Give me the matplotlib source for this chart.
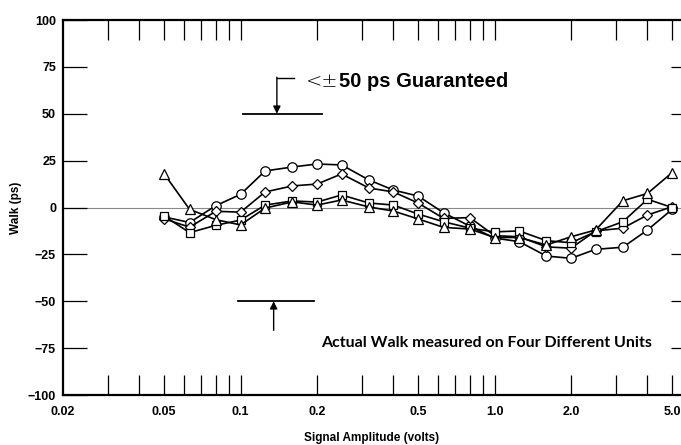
import matplotlib
matplotlib.use("Agg")
import matplotlib.pyplot as plt
from matplotlib.ticker import FixedLocator, FixedFormatter, NullLocator

# ---------------- data ----------------
amplitude = [0.05, 0.063, 0.08, 0.1, 0.125, 0.16, 0.2, 0.25, 0.32, 0.4, 0.5,
             0.63, 0.8, 1.0, 1.25, 1.6, 2.0, 2.5, 3.2, 4.0, 5.0]

walk_circle = [-5, -8, 1, 7, 19.5, 21.6, 23.2, 22.7, 14.7, 9.3, 6.1,
               -2.8, -10, -16.3, -18.2, -25.9, -27.1, -22.3, -21.2, -12, -1]
walk_diamond = [-6, -10.5, -2, -2.5, 8.3, 11.5, 12.5, 17.9, 10.4, 8.3, 2.4,
                -5.8, -5.4, -15, -15.6, -21, -21.7, -12.5, -11, -4, 0.4]
walk_square = [-4.5, -13.4, -9.5, -6.7, 1.3, 3.5, 2.9, 6.7, 2.4, 1.3, -3.5,
               -7.6, -11, -13, -12.5, -17.7, -18.8, -12.9, -7.6, 4.4, 0]
walk_triangle = [18, -1, -6.5, -9.3, -0.3, 3, 1.3, 4, 0.3, -1.9, -6.1,
                 -10.6, -11.5, -16, -16, -20, -15.6, -12, 3.6, 7.5, 18.6]

x_tick_positions = [0.03, 0.04, 0.05, 0.06, 0.07, 0.08, 0.09,
                    0.1, 0.2, 0.3, 0.4, 0.5, 0.6, 0.7, 0.8, 0.9,
                    1.0, 2.0, 3.0, 4.0, 5.0]
x_label_values = [0.02, 0.05, 0.1, 0.2, 0.5, 1.0, 2.0, 5.0]
x_label_texts = ["0.02", "0.05", "0.1", "0.2", "0.5", "1.0", "2.0", "5.0"]
y_tick_values = [100, 75, 50, 25, 0, -25, -50, -75, -100]
y_tick_texts = ["100", "75", "50", "25", "0", "\u221225", "\u221250", "\u221275", "\u2212100"]
y_right_ticks = [75, 50, 25, -25, -50, -75]

# ---------------- figure ----------------
plt.rcParams['font.family'] = ['Liberation Sans', 'DejaVu Sans']
fig = plt.figure(figsize=(6.81, 4.45), dpi=100)
ax = fig.add_axes([63 / 681, 50 / 445, 618 / 681, 375 / 445])
ax.set_xscale('log')
ax.set_xlim(0.02, 5.42)
ax.set_ylim(-100, 100)

ax.axhline(0, color='#888888', lw=0.8, zorder=1)

series = [(walk_circle, 'o'), (walk_diamond, 'D'), (walk_square, 's'), (walk_triangle, '^')]
msizes = {'o': 6.8, 'D': 5.6, 's': 6.0, '^': 7.2}
for vals, m in series:
    ax.plot(amplitude, vals, color='black', lw=1.2, marker=m, markersize=msizes[m],
            markerfacecolor='white', markeredgecolor='black', markeredgewidth=0.9,
            zorder=3)

# x ticks: tick marks at all positions, labels at selected ones
ax.xaxis.set_major_locator(FixedLocator(x_tick_positions))
ax.xaxis.set_major_formatter(FixedFormatter([""] * len(x_tick_positions)))
ax.xaxis.set_minor_locator(NullLocator())
ax.tick_params(axis='x', which='major', direction='in', length=14.5, width=0.9,
               top=True, bottom=True, labelbottom=False)
for v, t in zip(x_label_values, x_label_texts):
    ax.text(v, -0.03, t, transform=ax.get_xaxis_transform(), ha='center', va='top',
            fontsize=9, fontweight='bold')

ax.set_yticks(y_tick_values)
ax.set_yticklabels(y_tick_texts)
ax.yaxis.set_minor_locator(NullLocator())
ax.tick_params(axis='y', direction='in', length=17, width=0.9, pad=5,
               labelsize=9, right=False)
for lab in ax.get_yticklabels():
    lab.set_fontweight('bold')

for s in ['left', 'top', 'bottom']:
    ax.spines[s].set_linewidth(1.6)
ax.spines['right'].set_visible(False)

# right-hand short ticks
ax2 = ax.twinx()
ax2.set_ylim(-100, 100)
ax2.set_yticks(y_right_ticks)
ax2.set_yticklabels([])
ax2.tick_params(axis='y', direction='in', length=7, width=0.9)
for s in ax2.spines.values():
    s.set_visible(False)

ax.set_xlabel("Signal Amplitude (volts)", fontsize=8.5, fontweight='bold', labelpad=27)
ax.set_ylabel("Walk (ps)", fontsize=8.5, fontweight='bold', labelpad=4)

# guaranteed limits
ax.plot([0.102, 0.210], [50, 50], color='black', lw=1.3, zorder=2)
ax.plot([0.098, 0.194], [-50, -50], color='black', lw=1.3, zorder=2)
ax.plot([0.139, 0.163], [69, 69], color='black', lw=1.0, zorder=2)
ax.annotate('', xy=(0.139, 50), xytext=(0.139, 69.5),
            arrowprops=dict(arrowstyle='-|>', color='black', lw=1.0, mutation_scale=11,
                            shrinkA=0, shrinkB=0))
ax.annotate('', xy=(0.135, -50), xytext=(0.135, -65.5),
            arrowprops=dict(arrowstyle='-|>', color='black', lw=1.0, mutation_scale=11,
                            shrinkA=0, shrinkB=0))
ax.text(0.393, 0.835, "<\u00b1", transform=ax.transAxes, ha='left', va='center',
        fontsize=14, fontweight='light', family=['DejaVu Sans'])
ax.text(0.447, 0.835, "50 ps Guaranteed", transform=ax.transAxes, ha='left', va='center',
        fontsize=14.5, fontweight='bold')

ax.text(0.686, 0.138, "Actual Walk measured on Four Different Units", transform=ax.transAxes,
        ha='center', va='center', fontsize=11.5, fontweight='bold', family=['Lato', 'DejaVu Sans'])

fig.savefig("out.png", dpi=100)
